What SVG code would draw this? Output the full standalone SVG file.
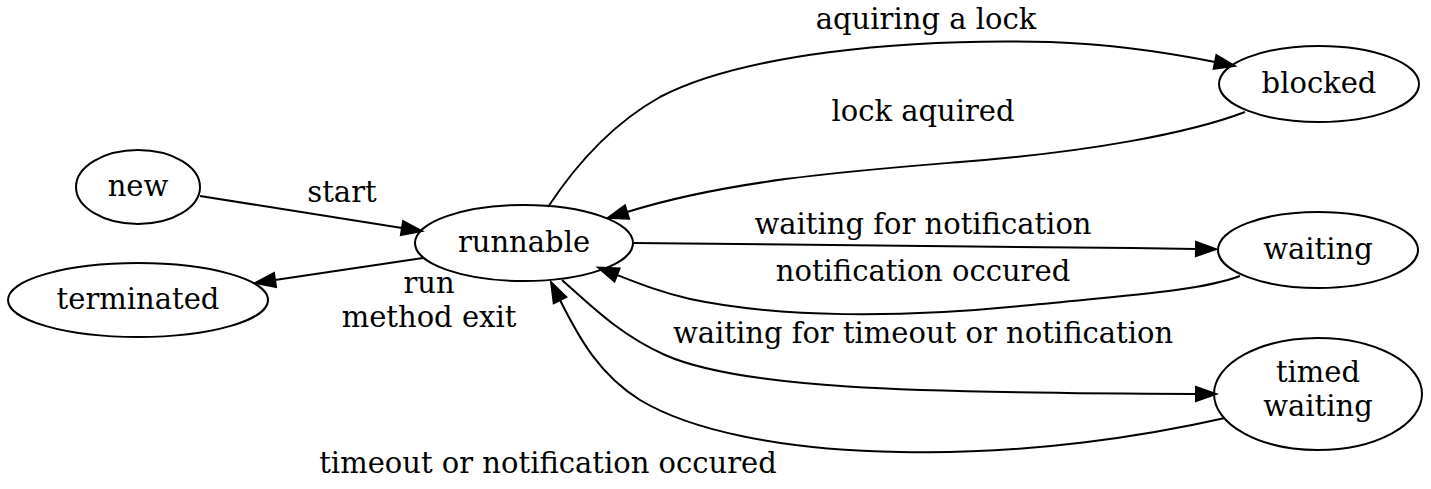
<svg xmlns="http://www.w3.org/2000/svg" width="1431" height="489" viewBox="0 0 1431 489">
<style>
.n ellipse{fill:none;stroke:#000;stroke-width:2}
text{font-family:"DejaVu Serif","Liberation Serif",serif;font-size:29px;fill:#000;text-anchor:middle}
.e path{fill:none;stroke:#000;stroke-width:2}
</style>
<defs>
<marker id="ah" markerUnits="userSpaceOnUse" markerWidth="24" markerHeight="18" refX="0" refY="8" orient="auto" overflow="visible">
<path d="M0,1 L20,8 L0,15 Z" fill="#000" stroke="#000" stroke-width="2"/>
</marker>
</defs>
<rect width="1431" height="489" fill="#fff"/>
<g id="edges" class="e">
<path marker-end="url(#ah)" d="M200,196 L402,228"/>
<path marker-end="url(#ah)" d="M423,258 L275,280"/>
<path marker-end="url(#ah)" d="M548,207 C575,166 610,125 660,97 C740,55 900,38 1050,42 C1110,44 1170,53 1215,62"/>
<path marker-end="url(#ah)" d="M1245,112 C1190,133 1090,152 960,162 C850,171 730,180 627,212"/>
<path marker-end="url(#ah)" d="M633,243 C800,244 1000,246 1196,249"/>
<path marker-end="url(#ah)" d="M1240,276 C1200,291 1130,295 1020,306 C900,318 780,318 690,299 C660,292 640,284 617,275"/>
<path marker-end="url(#ah)" d="M562,280 C590,305 620,335 665,355 C740,388 900,393 1196,394"/>
<path marker-end="url(#ah)" d="M1225,418 C1150,435 1030,455 900,452 C780,450 690,430 640,400 C600,375 580,340 560,300"/>
<text x="342" y="202">start</text>
<text x="429" y="293">run</text>
<text x="429" y="327">method exit</text>
<text x="926" y="29">aquiring a lock</text>
<text x="923" y="121">lock aquired</text>
<text x="923" y="234">waiting for notification</text>
<text x="923" y="281">notification occured</text>
<text x="923" y="343">waiting for timeout or notification</text>
<text x="548" y="473">timeout or notification occured</text>
</g>
<g id="new" class="n"><ellipse cx="138" cy="187" rx="62" ry="37"/><text x="138" y="196">new</text></g>
<g id="terminated" class="n"><ellipse cx="138" cy="300" rx="130" ry="37"/><text x="138" y="309">terminated</text></g>
<g id="runnable" class="n"><ellipse cx="524" cy="243" rx="109" ry="38"/><text x="524" y="252">runnable</text></g>
<g id="blocked" class="n"><ellipse cx="1319" cy="84" rx="100" ry="38"/><text x="1319" y="93">blocked</text></g>
<g id="waiting" class="n"><ellipse cx="1318" cy="250" rx="100" ry="38"/><text x="1318" y="259">waiting</text></g>
<g id="timed_waiting" class="n"><ellipse cx="1318" cy="394" rx="104" ry="56"/><text x="1318" y="382">timed</text><text x="1318" y="416">waiting</text></g>
</svg>
